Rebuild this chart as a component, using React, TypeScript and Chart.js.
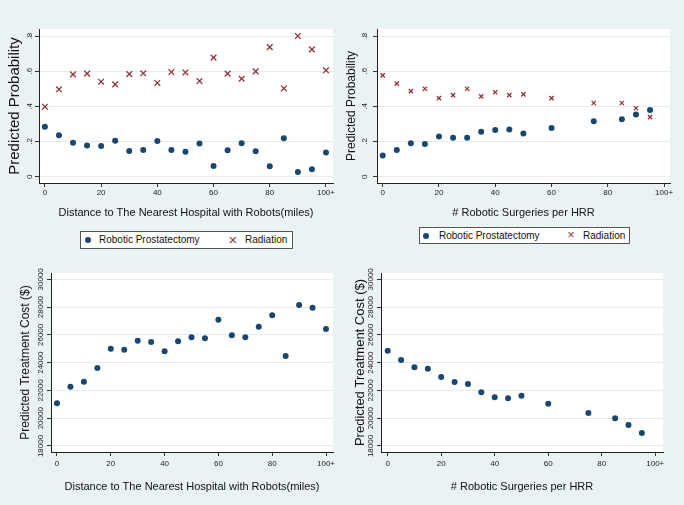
import React, { useEffect, useRef } from "react";
import { Chart, LinearScale, ScatterController, PointElement } from "chart.js";

Chart.register(LinearScale, ScatterController, PointElement);

// x positions
const distanceX = [0, 5, 10, 15, 20, 25, 30, 35, 40, 45, 50, 55, 60, 65, 70, 75, 80, 85, 90, 95, 100];
const surgeryX = [0, 5, 10, 15, 20, 25, 30, 35, 40, 45, 50, 60, 75, 85, 90, 95];

// predicted probability, by distance
const distRobotic = [0.284, 0.235, 0.193, 0.178, 0.174, 0.205, 0.146, 0.152, 0.203, 0.152, 0.142, 0.188, 0.061, 0.15, 0.19, 0.144, 0.059, 0.218, 0.027, 0.042, 0.138];
const distRadiation = [0.398, 0.497, 0.582, 0.586, 0.54, 0.525, 0.584, 0.588, 0.533, 0.595, 0.593, 0.544, 0.677, 0.586, 0.557, 0.599, 0.737, 0.502, 0.8, 0.724, 0.605];

// predicted probability, by surgeries per HRR
const surgRobotic = [0.121, 0.152, 0.19, 0.186, 0.229, 0.222, 0.222, 0.256, 0.265, 0.269, 0.246, 0.277, 0.315, 0.326, 0.353, 0.379];
const surgRadiation = [0.576, 0.529, 0.487, 0.5, 0.447, 0.464, 0.5, 0.457, 0.48, 0.464, 0.468, 0.447, 0.419, 0.419, 0.389, 0.339];

// predicted treatment cost
const distCost = [21072, 22272, 22632, 23616, 25008, 24936, 25584, 25488, 24816, 25536, 25824, 25752, 27096, 25968, 25824, 26592, 27408, 24480, 28152, 27960, 26424];
const surgCost = [24864, 24192, 23664, 23568, 22968, 22608, 22464, 21864, 21504, 21432, 21624, 21048, 20376, 19992, 19512, 18936];

const xTicks = [0, 20, 40, 60, 80, 100];
const probTicks = [0, 0.2, 0.4, 0.6, 0.8];
const costTicks = [18000, 20000, 22000, 24000, 26000, 28000, 30000];

const NAVY = "#1a476f";
const MAROON = "#90353b";
const BG = "#eaf2f3";
const FONT = "'Liberation Sans', Arial, Helvetica, sans-serif";

const plotBg = {
  id: "plotBg",
  beforeDraw(chart: any) {
    const { ctx, chartArea } = chart;
    ctx.save();
    ctx.fillStyle = "#ffffff";
    ctx.fillRect(chartArea.left, chartArea.top, chartArea.right - chartArea.left, chartArea.bottom - chartArea.top);
    ctx.restore();
  },
};

const fmtProb = (v: number) => (v === 0 ? "0" : String(Math.round(v * 10) / 10).replace(/^0/, ""));
const fmtX = (v: number) => (v === 100 ? "100+" : String(v));

type PanelProps = {
  box: { left: number; top: number; width: number; height: number };
  plot: { left: number; top: number; right: number; bottom: number };
  xMin: number;
  xMax: number;
  yMin: number;
  yMax: number;
  yTicks: number[];
  yFormat: (v: number) => string;
  yTitle: string;
  yTitleSize: number;
  yTitlePad: number;
  yTickPad: number;
  xTitle: string;
  xTitleSize: number;
  xTitlePad: number;
  xTickPad: number;
  datasets: any[];
};

const Panel: React.FC<PanelProps> = (p) => {
  const canvasRef = useRef<HTMLCanvasElement | null>(null);
  const chartRef = useRef<any>(null);

  useEffect(() => {
    if (!canvasRef.current) return;
    const ctx = canvasRef.current.getContext("2d");
    if (!ctx) return;
    if (chartRef.current) chartRef.current.destroy();

    const yWidth = p.plot.left - p.box.left;
    const xHeight = p.box.top + p.box.height - p.plot.bottom;

    chartRef.current = new Chart(ctx, {
      type: "scatter",
      data: { datasets: p.datasets },
      plugins: [plotBg],
      options: {
        responsive: false,
        animation: false,
        events: [],
        layout: {
          padding: {
            left: 0,
            bottom: 0,
            top: p.plot.top - p.box.top,
            right: p.box.left + p.box.width - p.plot.right,
          },
        },
        plugins: { legend: { display: false }, tooltip: { enabled: false } },
        scales: {
          x: {
            type: "linear",
            min: p.xMin,
            max: p.xMax,
            afterBuildTicks: (s: any) => {
              s.ticks = xTicks.map((v) => ({ value: v }));
            },
            afterFit: (s: any) => {
              s.height = xHeight;
            },
            ticks: {
              callback: (v: any) => fmtX(Number(v)),
              font: { family: FONT, size: 8 },
              color: "#222",
              padding: p.xTickPad,
              maxRotation: 0,
              autoSkip: false,
            },
            grid: { drawOnChartArea: false, drawTicks: true, tickLength: 4, tickColor: "#333" },
            border: { display: true, color: "#222", width: 1 },
            title: {
              display: true,
              text: p.xTitle,
              font: { family: FONT, size: p.xTitleSize },
              color: "#111",
              padding: { top: 0, bottom: p.xTitlePad },
            },
          },
          y: {
            type: "linear",
            min: p.yMin,
            max: p.yMax,
            afterBuildTicks: (s: any) => {
              s.ticks = p.yTicks.map((v) => ({ value: v }));
            },
            afterFit: (s: any) => {
              s.width = yWidth;
            },
            ticks: {
              callback: (v: any) => p.yFormat(Number(v)),
              font: { family: FONT, size: 8 },
              color: "#222",
              minRotation: 90,
              maxRotation: 90,
              crossAlign: "center",
              padding: p.yTickPad,
              autoSkip: false,
            },
            grid: { color: "#e4ecee", lineWidth: 1, drawTicks: true, tickLength: 4, tickColor: "#333" },
            border: { display: true, color: "#222", width: 1 },
            title: {
              display: true,
              text: p.yTitle,
              font: { family: FONT, size: p.yTitleSize },
              color: "#111",
              padding: { top: p.yTitlePad, bottom: 0 },
            },
          },
        },
      } as any,
    });

    return () => {
      chartRef.current?.destroy();
      chartRef.current = null;
    };
  }, []);

  return (
    <canvas
      ref={canvasRef}
      width={p.box.width}
      height={p.box.height}
      style={{ position: "absolute", left: p.box.left, top: p.box.top, width: p.box.width, height: p.box.height }}
    />
  );
};

const pts = (xs: number[], ys: number[]) => xs.map((x, i) => ({ x, y: ys[i] }));

const dots = (xs: number[], ys: number[]) => ({
  label: "Robotic Prostatectomy",
  data: pts(xs, ys),
  pointStyle: "circle",
  pointRadius: 3,
  borderWidth: 0,
  backgroundColor: NAVY,
  borderColor: NAVY,
});

const crosses = (xs: number[], ys: number[], r: number) => ({
  label: "Radiation",
  data: pts(xs, ys),
  pointStyle: "crossRot",
  pointRadius: r,
  borderWidth: 1.3,
  borderColor: MAROON,
  backgroundColor: MAROON,
});

type LegendProps = { left: number; top: number; width: number; height: number; dotX: number; textX: number; crossX: number; radX: number; crossSize: number };

// legend inner positions are relative to the box
const Legend: React.FC<LegendProps> = (l) => (
  <div
    style={{
      position: "absolute",
      left: l.left,
      top: l.top,
      width: l.width,
      height: l.height,
      boxSizing: "border-box",
      border: "1px solid #555",
      background: "#fff",
      fontFamily: FONT,
      fontSize: 10,
      color: "#111",
    }}
  >
    <div style={{ position: "absolute", left: l.dotX - 3, top: (l.height - 2) / 2 - 3, width: 6, height: 6, borderRadius: 3, background: NAVY }} />
    <span style={{ position: "absolute", left: l.textX, top: 0, lineHeight: `${l.height - 2}px`, whiteSpace: "nowrap" }}>Robotic Prostatectomy</span>
    <span style={{ position: "absolute", left: l.crossX - 5, top: 0, width: 10, textAlign: "center", lineHeight: `${l.height - 2}px`, color: MAROON, fontSize: l.crossSize }}>×</span>
    <span style={{ position: "absolute", left: l.radX, top: 0, lineHeight: `${l.height - 2}px`, whiteSpace: "nowrap" }}>Radiation</span>
  </div>
);

const App: React.FC = () => {
  return (
    <div style={{ position: "absolute", left: 0, top: 0, width: 684, height: 505, background: BG, overflow: "hidden" }}>
      <Panel
        box={{ left: 0, top: 0, width: 342, height: 222 }}
        plot={{ left: 39, top: 29, right: 333, bottom: 183 }}
        xMin={-2.1}
        xMax={102.5}
        yMin={-0.036}
        yMax={0.84}
        yTicks={probTicks}
        yFormat={fmtProb}
        yTitle="Predicted Probability"
        yTitleSize={15}
        yTitlePad={6}
        yTickPad={1.7}
        xTitle="Distance to The Nearest Hospital with Robots(miles)"
        xTitleSize={11}
        xTitlePad={2.4}
        xTickPad={1.2}
        datasets={[dots(distanceX, distRobotic), crosses(distanceX, distRadiation, 4)]}
      />
      <Panel
        box={{ left: 342, top: 0, width: 342, height: 222 }}
        plot={{ left: 377, top: 29, right: 670, bottom: 183 }}
        xMin={-2.03}
        xMax={102.1}
        yMin={-0.036}
        yMax={0.84}
        yTicks={probTicks}
        yFormat={fmtProb}
        yTitle="Predicted Probability"
        yTitleSize={12}
        yTitlePad={2.8}
        yTickPad={4.4}
        xTitle="# Robotic Surgeries per HRR"
        xTitleSize={11}
        xTitlePad={2.4}
        xTickPad={1.2}
        datasets={[dots(surgeryX, surgRobotic), crosses(surgeryX, surgRadiation, 3)]}
      />
      <Panel
        box={{ left: 0, top: 250, width: 342, height: 250 }}
        plot={{ left: 51, top: 273, right: 333, bottom: 452 }}
        xMin={-2.23}
        xMax={102.6}
        yMin={17568}
        yMax={30454}
        yTicks={costTicks}
        yFormat={(v) => String(v)}
        yTitle="Predicted Treatment Cost ($)"
        yTitleSize={12}
        yTitlePad={18.8}
        yTickPad={-5.1}
        xTitle="Distance to The Nearest Hospital with Robots(miles)"
        xTitleSize={11}
        xTitlePad={6.4}
        xTickPad={3.2}
        datasets={[dots(distanceX, distCost)]}
      />
      <Panel
        box={{ left: 342, top: 250, width: 342, height: 250 }}
        plot={{ left: 381, top: 273, right: 663, bottom: 452 }}
        xMin={-2.5}
        xMax={102.9}
        yMin={17568}
        yMax={30454}
        yTicks={costTicks}
        yFormat={(v) => String(v)}
        yTitle="Predicted Treatment Cost ($)"
        yTitleSize={13}
        yTitlePad={10.2}
        yTickPad={-5.1}
        xTitle="# Robotic Surgeries per HRR"
        xTitleSize={11}
        xTitlePad={6.4}
        xTickPad={3.2}
        datasets={[dots(surgeryX, surgCost)]}
      />
      <Legend left={80} top={231} width={213} height={18} dotX={7} textX={18} crossX={152} radX={164} crossSize={15} />
      <Legend left={419} top={227} width={211} height={17} dotX={6} textX={19} crossX={151} radX={163} crossSize={12} />
    </div>
  );
};

export default App;
